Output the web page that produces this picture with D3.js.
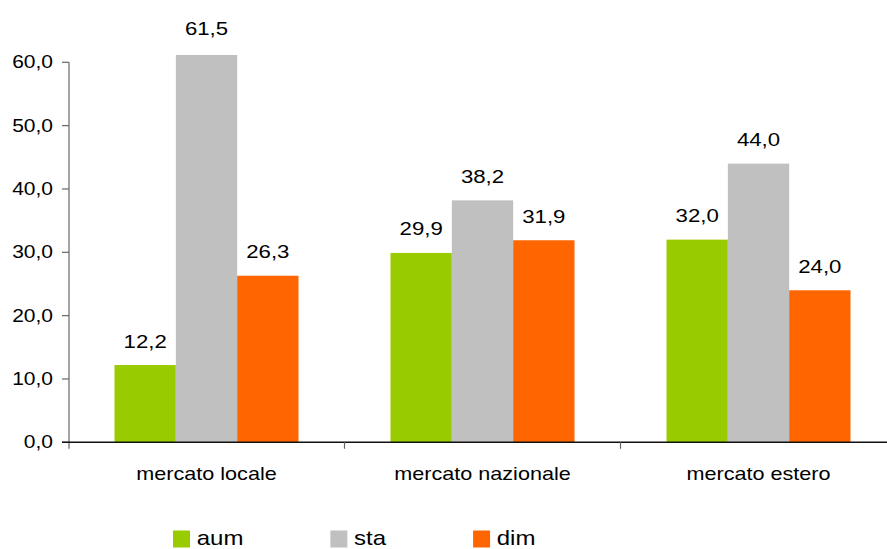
<!DOCTYPE html>
<html>
<head>
<meta charset="utf-8">
<script src="https://cdn.jsdelivr.net/npm/d3@7"></script>
<style>
  html, body { margin: 0; padding: 0; background: #fff; }
  svg { display: block; font-family: "Liberation Sans", Arial, sans-serif; }
</style>
</head>
<body>
<svg id="chart" width="887" height="549"></svg>
<script>
// Categories and series
const categories = ["mercato locale", "mercato nazionale", "mercato estero"];
const seriesNames = ["aum", "sta", "dim"];
const aum = [12.2, 29.9, 32.0];
const sta = [61.5, 38.2, 44.0];
const dim = [26.3, 31.9, 24.0];
const seriesColors = ["#99CC00", "#C0C0C0", "#FF6600"];
const yTicks = [0, 10, 20, 30, 40, 50, 60];

const seriesValues = [aum, sta, dim];
const fmt = v => v.toFixed(1).replace(".", ",");
const SX = 1.2; // horizontal text stretch

const svg = d3.select("#chart");

const x0 = 68.5, plotTop = 55, xBottom = 442.3;
const band = 276;

const x = d3.scaleBand().domain(categories).range([x0, x0 + band * categories.length]).paddingInner(0).paddingOuter(0);
const xs = d3.scaleBand().domain(seriesNames).range([0, x.bandwidth()]).paddingInner(0).paddingOuter(0.75);
const y = d3.scaleLinear().domain([0, 60]).range([xBottom, 62.3]);

svg.append("defs").append("clipPath").attr("id", "plotClip")
  .append("rect").attr("x", x0).attr("y", plotTop).attr("width", 887 - x0).attr("height", xBottom - plotTop);

// Bars
const bars = svg.append("g").attr("clip-path", "url(#plotClip)");
categories.forEach((c, ci) => {
  seriesNames.forEach((s, si) => {
    const v = seriesValues[si][ci];
    bars.append("rect")
      .attr("x", x(c) + xs(s))
      .attr("y", y(v))
      .attr("width", xs.bandwidth())
      .attr("height", y(0) - y(v))
      .attr("fill", seriesColors[si]);
  });
});

// Value labels
categories.forEach((c, ci) => {
  seriesNames.forEach((s, si) => {
    const v = seriesValues[si][ci];
    svg.append("text")
      .attr("transform", `translate(${x(c) + xs(s) + xs.bandwidth() / 2},${y(v) - 17.5}) scale(${SX},1)`)
      .attr("text-anchor", "middle")
      .attr("font-size", 18.5)
      .attr("fill", "#000")
      .text(fmt(v));
  });
});

// Y axis
const yAxis = svg.append("g");
yAxis.append("line").attr("x1", 69).attr("x2", 69).attr("y1", y(60)).attr("y2", xBottom + 6.5)
  .attr("stroke", "#666").attr("stroke-width", 1.2);
yTicks.forEach(t => {
  yAxis.append("line").attr("x1", 62).attr("x2", 69).attr("y1", y(t)).attr("y2", y(t))
    .attr("stroke", "#666").attr("stroke-width", 1.2);
  yAxis.append("text")
    .attr("transform", `translate(53,${y(t) + 6}) scale(${SX},1)`)
    .attr("text-anchor", "end")
    .attr("font-size", 17.5)
    .attr("fill", "#000")
    .text(fmt(t));
});

// X axis
const xAxis = svg.append("g");
xAxis.append("line").attr("x1", 62).attr("x2", 887).attr("y1", xBottom).attr("y2", xBottom)
  .attr("stroke", "#111").attr("stroke-width", 1.5);
categories.forEach((c, i) => {
  const tx = x(c) + band;
  xAxis.append("line").attr("x1", tx).attr("x2", tx).attr("y1", xBottom).attr("y2", xBottom + 6.5)
    .attr("stroke", "#666").attr("stroke-width", 1.2);
  xAxis.append("text")
    .attr("transform", `translate(${x(c) + band / 2},480) scale(${SX},1)`)
    .attr("text-anchor", "middle")
    .attr("font-size", 18)
    .attr("fill", "#000")
    .text(c);
});

// Legend
const legend = svg.append("g");
let lx = 173;
seriesNames.forEach((s, i) => {
  legend.append("rect").attr("x", lx).attr("y", 530.5).attr("width", 17).attr("height", 17).attr("fill", seriesColors[i]);
  const t = legend.append("text")
    .attr("transform", `translate(${lx + 23.7},544.5) scale(${SX},1)`)
    .attr("font-size", 20)
    .attr("fill", "#000")
    .text(s);
  const w = t.node().getComputedTextLength() * SX;
  lx += 17 + 6.7 + w + 87;
});
</script>
</body>
</html>
